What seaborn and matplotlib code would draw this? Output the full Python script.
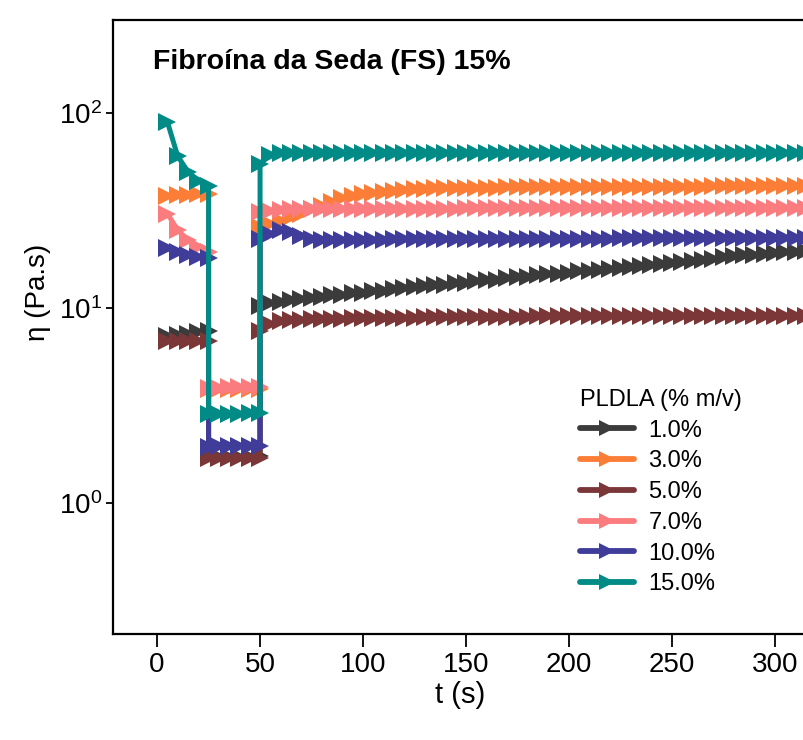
import matplotlib
matplotlib.use("Agg")
import matplotlib.pyplot as plt
import pandas as pd
import seaborn as sns
from matplotlib.lines import Line2D
from matplotlib.ticker import LogLocator, NullLocator

# ---------------- data ----------------
series_labels = ["1.0%", "3.0%", "5.0%", "7.0%", "10.0%", "15.0%"]
series_colors = ["#3b3b3b", "#fb7d36", "#7b3737", "#fb7c7e", "#3f3d99", "#008b86"]

t_step1 = [5, 10, 15, 20, 25]
t_step2 = [25, 30, 35, 40, 45, 50]
t_step3 = [50, 55, 60, 65, 70, 75, 80, 85, 90, 95,
           100, 105, 110, 115, 120, 125, 130, 135, 140, 145,
           150, 155, 160, 165, 170, 175, 180, 185, 190, 195,
           200, 205, 210, 215, 220, 225, 230, 235, 240, 245,
           250, 255, 260, 265, 270, 275, 280, 285, 290, 295,
           300, 305, 310, 315, 320, 325]

# 1.0 %
eta_1_s1 = [7.2, 7.3, 7.4, 7.5, 7.6]
eta_1_s2 = [1.72, 1.72, 1.73, 1.73, 1.73, 1.74]
eta_1_s3 = [10.2, 10.6, 10.8, 11.0, 11.1, 11.3, 11.4, 11.6, 11.7, 11.9,
            12.0, 12.2, 12.3, 12.5, 12.6, 12.8, 12.9, 13.1, 13.2, 13.4,
            13.5, 13.7, 13.9, 14.0, 14.2, 14.4, 14.5, 14.7, 14.9, 15.0,
            15.2, 15.4, 15.5, 15.7, 15.9, 16.1, 16.3, 16.4, 16.6, 16.8,
            17.0, 17.2, 17.4, 17.6, 17.9, 18.2, 18.4, 18.6, 18.8, 19.0,
            19.1, 19.3, 19.4, 19.5, 19.6, 19.7]
# 3.0 %
eta_3_s1 = [37.5, 37.8, 38.0, 38.2, 38.5]
eta_3_s2 = [3.85, 3.85, 3.86, 3.86, 3.87, 3.87]
eta_3_s3 = [26.0, 27.0, 28.0, 29.3, 30.5, 32.0, 33.5, 35.0, 36.5, 37.5,
            38.3, 39.0, 39.5, 40.0, 40.3, 40.6, 40.8, 41.0, 41.1, 41.2,
            41.3, 41.3, 41.4, 41.4, 41.5, 41.5, 41.5, 41.6, 41.6, 41.6,
            41.7, 41.7, 41.7, 41.7, 41.8, 41.8, 41.8, 41.8, 41.8, 41.9,
            41.9, 41.9, 41.9, 41.9, 42.0, 42.0, 42.0, 42.0, 42.0, 42.0,
            42.0, 42.1, 42.1, 42.1, 42.1, 42.1]
# 5.0 %
eta_5_s1 = [6.8, 6.8, 6.75, 6.8, 6.8]
eta_5_s2 = [1.70, 1.70, 1.70, 1.71, 1.71, 1.71]
eta_5_s3 = [7.6, 8.3, 8.6, 8.7, 8.7, 8.8, 8.8, 8.8, 8.8, 8.9,
            8.9, 8.9, 8.9, 8.9, 8.9, 8.9, 9.0, 9.0, 9.0, 9.0,
            9.0, 9.0, 9.0, 9.0, 9.0, 9.0, 9.0, 9.1, 9.1, 9.1,
            9.1, 9.1, 9.1, 9.1, 9.1, 9.1, 9.1, 9.1, 9.1, 9.1,
            9.1, 9.1, 9.1, 9.1, 9.1, 9.1, 9.1, 9.1, 9.1, 9.1,
            9.1, 9.1, 9.1, 9.1, 9.1, 9.1]
# 7.0 %
eta_7_s1 = [30.5, 25.1, 22.3, 20.6, 19.4]
eta_7_s2 = [3.90, 3.90, 3.92, 3.92, 3.93, 3.93]
eta_7_s3 = [31.0, 31.5, 31.8, 32.0, 32.0, 32.1, 32.1, 32.2, 32.2, 32.2,
            32.2, 32.2, 32.3, 32.3, 32.3, 32.3, 32.3, 32.3, 32.3, 32.3,
            32.4, 32.4, 32.4, 32.4, 32.4, 32.4, 32.4, 32.4, 32.4, 32.4,
            32.4, 32.4, 32.4, 32.4, 32.4, 32.4, 32.4, 32.4, 32.4, 32.4,
            32.4, 32.4, 32.4, 32.4, 32.4, 32.4, 32.4, 32.4, 32.4, 32.4,
            32.4, 32.4, 32.4, 32.4, 32.4, 32.4]
# 10.0 %
eta_10_s1 = [20.2, 19.4, 18.8, 18.3, 18.0]
eta_10_s2 = [1.95, 1.96, 1.96, 1.97, 1.97, 1.97]
eta_10_s3 = [22.5, 24.0, 25.0, 24.5, 23.5, 22.5, 22.3, 22.3, 22.3, 22.4,
             22.4, 22.4, 22.4, 22.5, 22.5, 22.5, 22.5, 22.5, 22.5, 22.6,
             22.6, 22.6, 22.6, 22.6, 22.6, 22.6, 22.7, 22.7, 22.7, 22.7,
             22.7, 22.7, 22.7, 22.7, 22.7, 22.8, 22.8, 22.8, 22.8, 22.8,
             22.8, 22.8, 22.8, 22.8, 22.8, 22.8, 22.8, 22.8, 22.8, 22.8,
             22.8, 22.8, 22.8, 22.8, 22.8, 22.8]
# 15.0 %
eta_15_s1 = [90.0, 60.0, 50.0, 45.0, 42.0]
eta_15_s2 = [2.86, 2.87, 2.88, 2.88, 2.89, 2.89]
eta_15_s3 = [55.0, 61.0, 62.0, 62.0, 62.2, 62.2, 62.3, 62.3, 62.3, 62.4,
             62.4, 62.4, 62.4, 62.4, 62.5, 62.5, 62.5, 62.5, 62.5, 62.5,
             62.5, 62.5, 62.5, 62.5, 62.5, 62.5, 62.5, 62.5, 62.5, 62.5,
             62.5, 62.5, 62.5, 62.5, 62.5, 62.5, 62.5, 62.5, 62.5, 62.5,
             62.5, 62.5, 62.5, 62.5, 62.5, 62.5, 62.5, 62.5, 62.5, 62.5,
             62.5, 62.5, 62.5, 62.5, 62.5, 62.5]

series_values = [
    (eta_1_s1, eta_1_s2, eta_1_s3),
    (eta_3_s1, eta_3_s2, eta_3_s3),
    (eta_5_s1, eta_5_s2, eta_5_s3),
    (eta_7_s1, eta_7_s2, eta_7_s3),
    (eta_10_s1, eta_10_s2, eta_10_s3),
    (eta_15_s1, eta_15_s2, eta_15_s3),
]

t_all = t_step1 + t_step2 + t_step3
rows = []
for lab, (s1, s2, s3) in zip(series_labels, series_values):
    vals = s1 + s2 + s3
    for t, v in zip(t_all, vals):
        rows.append({"t": t, "eta": v, "PLDLA": lab})
df = pd.DataFrame(rows)

# ---------------- style ----------------
sns.set_style("ticks")
plt.rcParams["font.family"] = ["Liberation Sans", "DejaVu Sans"]
plt.rcParams["text.color"] = "black"
plt.rcParams["axes.labelcolor"] = "black"
plt.rcParams["mathtext.fontset"] = "custom"
plt.rcParams["mathtext.rm"] = "Liberation Sans"
plt.rcParams["mathtext.it"] = "Liberation Sans:italic"
plt.rcParams["mathtext.bf"] = "Liberation Sans:bold"

W, H = 804, 740
fig = plt.figure(figsize=(W / 100, H / 100), dpi=100)
ax = fig.add_axes([113 / W, (H - 634) / H, 724 / W, 614 / H])

palette = dict(zip(series_labels, series_colors))
sns.lineplot(data=df, x="t", y="eta", hue="PLDLA", hue_order=series_labels,
             palette=palette, estimator=None, sort=False, legend=False,
             marker=">", markersize=12.5, mew=0, linewidth=3.6, ax=ax)

ax.set_yscale("log")
ax.set_xlim(-21.4, 330.1)
ax.set_ylim(0.214, 299)
ax.set_xticks([0, 50, 100, 150, 200, 250, 300])
ax.yaxis.set_major_locator(LogLocator(base=10, numticks=10))
ax.yaxis.set_minor_locator(NullLocator())
ax.set_xlabel("")
ax.set_ylabel("")

for side in ["top", "left", "bottom", "right"]:
    ax.spines[side].set_linewidth(1.6)
    ax.spines[side].set_color("black")
ax.tick_params(axis="x", length=9, width=1.3, pad=4, labelsize=20, colors="black")
ax.tick_params(axis="y", length=5, width=1.3, pad=3, labelsize=20, colors="black")

fig.text(460 / W, 1 - 695 / H, "t (s)", ha="center", va="center", fontsize=21,
         color="black")
fig.text(38 / W, 1 - 292 / H, "η (Pa.s)", ha="center", va="center",
         rotation=90, fontsize=20, color="black")
fig.text(153 / W, 1 - 62 / H, "Fibroína da Seda (FS) 15%", ha="left",
         va="center", fontsize=20.5, fontweight="bold", color="black")

handles = [Line2D([], [], color=c, lw=4.2, marker=">", markersize=12, mew=0,
                  solid_capstyle="round")
           for c in series_colors]
leg = fig.legend(handles, series_labels, title="PLDLA (% m/v)",
                 loc="upper left", bbox_to_anchor=(580 / W, 1 - 389 / H),
                 frameon=False, fontsize=17, title_fontsize=17,
                 handlelength=2.3, handletextpad=0.6, labelspacing=0.37,
                 borderpad=0, borderaxespad=0, numpoints=1, alignment="left")
for txt in leg.get_texts():
    txt.set_color("black")
leg.get_title().set_color("black")

fig.savefig("out.png", dpi=100)
